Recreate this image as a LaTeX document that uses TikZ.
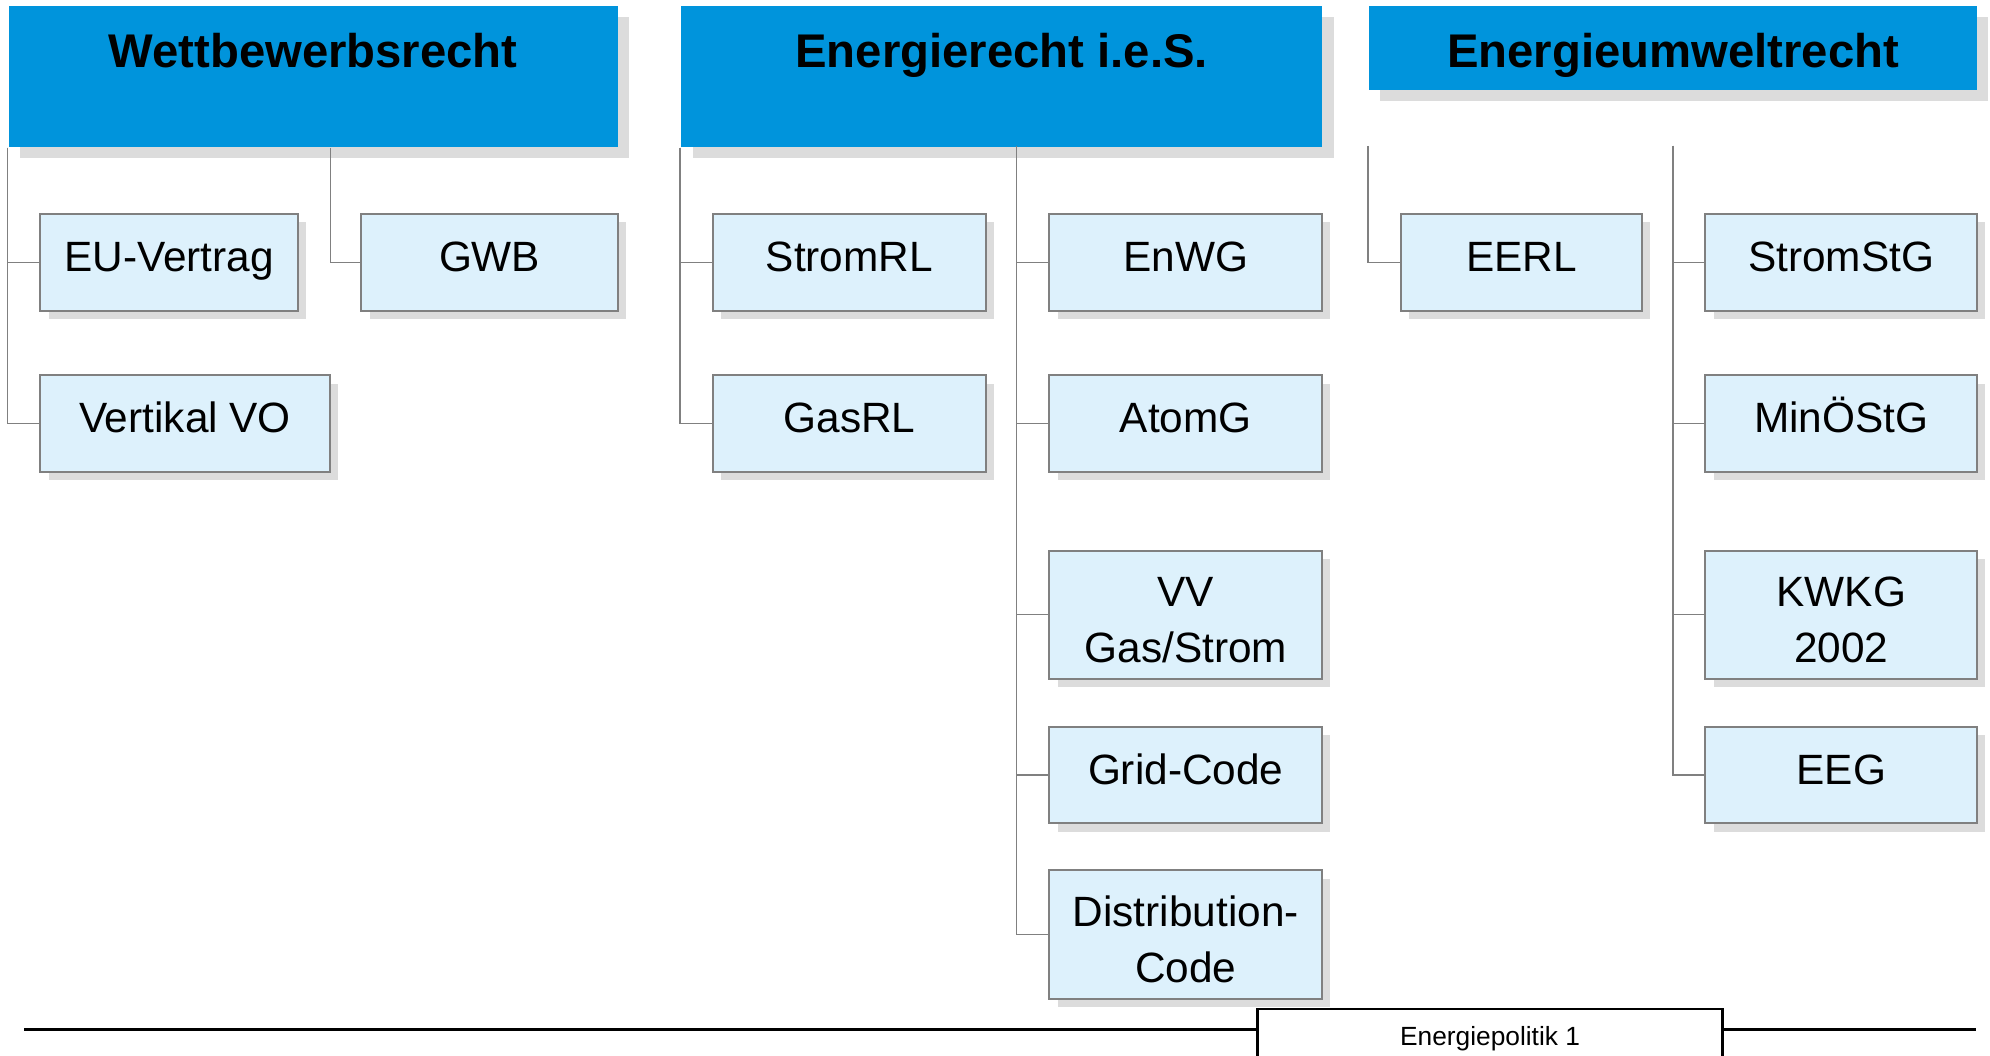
\documentclass[tikz,border=0pt]{standalone}
\usepackage{fontspec}
\setmainfont{Liberation Sans}
\usetikzlibrary{shadows}

\definecolor{headblue}{HTML}{0094DC}
\definecolor{boxblue}{HTML}{DDF1FC}
\definecolor{linegray}{HTML}{808080}
\definecolor{shadegray}{HTML}{DCDCDC}

\begin{document}
\begin{tikzpicture}[
    header/.style={anchor=north west, fill=headblue, inner sep=0pt, text height=0.485cm,
        font=\fontsize{10.6}{12}\selectfont\bfseries,
        drop shadow={shadow xshift=0.09cm, shadow yshift=-0.09cm, fill=shadegray, opacity=1}},
    law/.style={anchor=north west, draw=linegray, line width=0.45pt, fill=boxblue,
        inner sep=0pt, align=center, font=\fontsize{9.5}{12.4}\selectfont,
        drop shadow={shadow xshift=0.065cm, shadow yshift=-0.065cm, fill=shadegray, opacity=1}},
    oneline/.style={law, text height=0.45cm, text depth=0.31cm},
    twoline/.style={law, text height=0.88cm, text depth=0.13cm},
    conn/.style={draw=linegray, line width=0.35pt}]

    \useasboundingbox (0,0) rectangle (15.68,-8.32);
    \clip (0,0) rectangle (15.68,-8.32);

    % Headers
    \node[header, minimum width=4.80cm, text depth=0.625cm] (wb) at (0.06,-0.04) {Wettbewerbsrecht};
    \node[header, minimum width=5.05cm, text depth=0.625cm] (er) at (5.36,-0.04) {Energierecht i.e.S.};
    \node[header, minimum width=4.79cm, text depth=0.175cm] (eu) at (10.78,-0.04) {Energieumweltrecht};

    % Wettbewerbsrecht
    \node[oneline, minimum width=2.03cm] (euv) at (0.31,-1.68) {EU-Vertrag};
    \node[oneline, minimum width=2.28cm] (vvo) at (0.31,-2.95) {Vertikal VO};
    \node[oneline, minimum width=2.02cm] (gwb) at (2.84,-1.68) {GWB};
    \draw[conn] (wb.south west) |- (euv.west);
    \draw[conn] (wb.south west) |- (vvo.west);
    \draw[conn] (vvo.east |- wb.south) |- (gwb.west);

    % Energierecht i.e.S.
    \node[oneline, minimum width=2.15cm] (strl) at (5.61,-1.68) {StromRL};
    \node[oneline, minimum width=2.15cm] (garl) at (5.61,-2.95) {GasRL};
    \node[oneline, minimum width=2.15cm] (enwg) at (8.26,-1.68) {EnWG};
    \node[oneline, minimum width=2.15cm] (atomg) at (8.26,-2.95) {AtomG};
    \node[twoline, minimum width=2.15cm] (vvgs) at (8.26,-4.33) {VV\\Gas/Strom};
    \node[oneline, minimum width=2.15cm] (grid) at (8.26,-5.72) {Grid-Code};
    \node[twoline, minimum width=2.15cm] (dist) at (8.26,-6.85) {Distribution-\\Code};
    \coordinate (erk) at (8.01,-1.15);
    \draw[conn] (er.south west) |- (strl.west);
    \draw[conn] (er.south west) |- (garl.west);
    \draw[conn] (erk) |- (enwg.west);
    \draw[conn] (erk) |- (atomg.west);
    \draw[conn] (erk) |- (vvgs.west);
    \draw[conn] (erk) |- (grid.west);
    \draw[conn] (erk) |- (dist.west);

    % Energieumweltrecht
    \node[oneline, minimum width=1.90cm] (eerl) at (11.03,-1.68) {EERL};
    \node[oneline, minimum width=2.14cm] (stst) at (13.43,-1.68) {StromStG};
    \node[oneline, minimum width=2.14cm] (mist) at (13.43,-2.95) {MinÖStG};
    \node[twoline, minimum width=2.14cm] (kwkg) at (13.43,-4.33) {KWKG\\2002};
    \node[oneline, minimum width=2.14cm] (eeg) at (13.43,-5.72) {EEG};
    \coordinate (ewl) at (10.78,-1.15);
    \coordinate (ewr) at (13.18,-1.15);
    \draw[conn] (ewl) |- (eerl.west);
    \draw[conn] (ewr) |- (stst.west);
    \draw[conn] (ewr) |- (mist.west);
    \draw[conn] (ewr) |- (kwkg.west);
    \draw[conn] (ewr) |- (eeg.west);

    % Footer
    \coordinate (rulel) at (0.19,-8.11);
    \coordinate (ruler) at (15.57,-8.11);
    \draw[line width=0.7pt] (rulel) -- (ruler);
    \node[anchor=north west, draw=black, line width=0.6pt, fill=white, inner sep=0pt,
        minimum width=3.66cm, text height=0.29cm, text depth=0.4cm,
        font=\fontsize{5.9}{7}\selectfont] (foot) at (9.90,-7.94) {Energiepolitik 1};

\end{tikzpicture}
\end{document}
